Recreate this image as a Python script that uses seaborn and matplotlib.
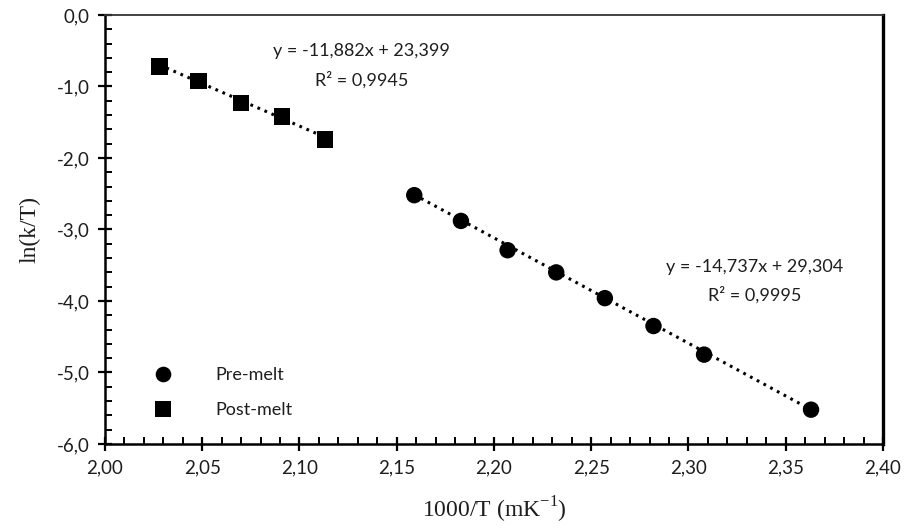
import numpy as np
import pandas as pd
import matplotlib
matplotlib.use("Agg")
import matplotlib.pyplot as plt
from matplotlib.ticker import MultipleLocator, FuncFormatter
import seaborn as sns

# Arrhenius-type data: ln(k/T) against 1000/T
pre_x = [2.159, 2.183, 2.207, 2.232, 2.257, 2.282, 2.308, 2.363]
pre_y = [-2.52, -2.88, -3.29, -3.60, -3.96, -4.35, -4.75, -5.52]
post_x = [2.028, 2.048, 2.070, 2.091, 2.113]
post_y = [-0.72, -0.92, -1.23, -1.42, -1.74]

# Linear trend lines (slope, intercept, R^2)
pre_fit = [-14.737, 29.304, 0.9995]
post_fit = [-11.882, 23.399, 0.9945]

series_names = ["Pre-melt", "Post-melt"]

sns.set_theme(style="white")
plt.rcParams["font.family"] = ["Lato", "DejaVu Sans"]
plt.rcParams["mathtext.fontset"] = "custom"
plt.rcParams["mathtext.rm"] = "Liberation Serif"

TXT = "#1e1e1e"

df = pd.DataFrame({
    "x": pre_x + post_x,
    "y": pre_y + post_y,
    "phase": [series_names[0]] * len(pre_x) + [series_names[1]] * len(post_x),
})

fig = plt.figure(figsize=(9.09, 5.28), dpi=100)
ax = fig.add_axes([0.1155, 0.1591, 0.8559, 0.8125])


def trend(xs, fit):
    xs = np.array([min(xs), max(xs)])
    return xs, fit[0] * xs + fit[1]


for xs, fit in ((pre_x, pre_fit), (post_x, post_fit)):
    tx, ty = trend(xs, fit)
    sns.lineplot(x=tx, y=ty, ax=ax, color="black", lw=2.2,
                 linestyle=(0, (0.9, 1.6)), zorder=2)

sns.scatterplot(data=df, x="x", y="y", style="phase",
                markers={"Pre-melt": "o", "Post-melt": "s"},
                color="black", s=140, edgecolor="black", linewidth=0,
                ax=ax, zorder=3)

ax.set_xlim(2.0, 2.4)
ax.set_ylim(-6.0, 0.0)
ax.xaxis.set_major_locator(MultipleLocator(0.05))
ax.xaxis.set_minor_locator(MultipleLocator(0.01))
ax.yaxis.set_major_locator(MultipleLocator(1.0))
ax.yaxis.set_minor_locator(MultipleLocator(0.2))
ax.xaxis.set_major_formatter(FuncFormatter(lambda v, p: f"{v:.2f}".replace(".", ",")))
ax.yaxis.set_major_formatter(FuncFormatter(lambda v, p: f"{v:.1f}".replace(".", ",").replace("-0,0", "0,0")))

ax.tick_params(which="major", direction="inout", length=10, width=1.6,
               color="black", labelsize=13.5, labelcolor=TXT, pad=6,
               bottom=True, left=True)
ax.tick_params(which="minor", direction="in", length=5, width=1.4,
               color="black", bottom=True, left=True)

for side in ("left", "bottom"):
    ax.spines[side].set_color("black")
    ax.spines[side].set_linewidth(1.8)
ax.spines["right"].set_color("black")
ax.spines["right"].set_linewidth(2.4)
ax.spines["top"].set_color("#333333")
ax.spines["top"].set_linewidth(1.3)

ax.set_xlabel("1000/T (mK$^{-1}$)", family="Liberation Serif", fontsize=17,
              color=TXT, labelpad=13)
ax.set_ylabel("ln(k/T)", family="Liberation Serif", fontsize=17,
              color=TXT, labelpad=12)

ax.text(2.132, -0.50, f"y = {post_fit[0]:.3f}x + {post_fit[1]:.3f}".replace(".", ","),
        ha="center", va="center", fontsize=13, color=TXT)
ax.text(2.132, -0.91, f"R² = {post_fit[2]:.4f}".replace(".", ","),
        ha="center", va="center", fontsize=13, color=TXT)
ax.text(2.334, -3.52, f"y = {pre_fit[0]:.3f}x + {pre_fit[1]:.3f}".replace(".", ","),
        ha="center", va="center", fontsize=13, color=TXT)
ax.text(2.334, -3.92, f"R² = {pre_fit[2]:.4f}".replace(".", ","),
        ha="center", va="center", fontsize=13, color=TXT)

leg = ax.legend(loc="lower left", bbox_to_anchor=(0.03, 0.022), frameon=False,
                fontsize=13, handletextpad=1.9, labelspacing=1.05,
                markerscale=0.95)
for t in leg.get_texts():
    t.set_color(TXT)

fig.savefig("out.png", dpi=100)
